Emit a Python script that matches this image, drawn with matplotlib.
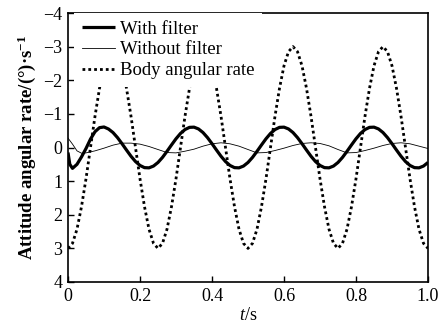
import matplotlib
matplotlib.use("Agg")
import matplotlib.pyplot as plt
import numpy as np

# ---- data ----
# "With filter" (thick solid)
t_filter = [0.0, 0.005, 0.0125, 0.025, 0.0375, 0.05, 0.0625, 0.075, 0.0875, 0.1,
            0.1125, 0.125, 0.1375, 0.15, 0.1625, 0.175, 0.1875, 0.2, 0.2125, 0.225,
            0.2375, 0.25, 0.2625, 0.275, 0.2875, 0.3, 0.3125, 0.325, 0.3375, 0.35,
            0.3625, 0.375, 0.3875, 0.4, 0.4125, 0.425, 0.4375, 0.45, 0.4625, 0.475,
            0.4875, 0.5, 0.5125, 0.525, 0.5375, 0.55, 0.5625, 0.575, 0.5875, 0.6,
            0.6125, 0.625, 0.6375, 0.65, 0.6625, 0.675, 0.6875, 0.7, 0.7125, 0.725,
            0.7375, 0.75, 0.7625, 0.775, 0.7875, 0.8, 0.8125, 0.825, 0.8375, 0.85,
            0.8625, 0.875, 0.8875, 0.9, 0.9125, 0.925, 0.9375, 0.95, 0.9625, 0.975,
            0.9875, 1.0]
v_filter = [0.15, 0.50, 0.62, 0.50, 0.28, 0.03, -0.25, -0.47, -0.59, -0.61,
            -0.55, -0.445, -0.294, -0.114, 0.076, 0.26, 0.418, 0.534, 0.599, 0.605,
            0.552, 0.445, 0.294, 0.114, -0.076, -0.26, -0.418, -0.534, -0.599, -0.605,
            -0.552, -0.445, -0.294, -0.114, 0.076, 0.26, 0.418, 0.534, 0.599, 0.605,
            0.552, 0.445, 0.294, 0.114, -0.076, -0.26, -0.418, -0.534, -0.599, -0.605,
            -0.552, -0.445, -0.294, -0.114, 0.076, 0.26, 0.418, 0.534, 0.599, 0.605,
            0.552, 0.445, 0.294, 0.114, -0.076, -0.26, -0.418, -0.534, -0.599, -0.605,
            -0.552, -0.445, -0.294, -0.114, 0.076, 0.26, 0.418, 0.534, 0.599, 0.605,
            0.552, 0.445]

# "Without filter" (thin solid)
t_nofilter = [0.0, 0.0125, 0.025, 0.0375, 0.05, 0.075, 0.1, 0.125, 0.15, 0.175,
              0.2, 0.225, 0.25, 0.275, 0.3, 0.325, 0.35, 0.375, 0.4, 0.425,
              0.45, 0.475, 0.5, 0.525, 0.55, 0.575, 0.6, 0.625, 0.65, 0.675,
              0.7, 0.725, 0.75, 0.775, 0.8, 0.825, 0.85, 0.875, 0.9, 0.925,
              0.95, 0.975, 1.0]
v_nofilter = [-0.28, -0.10, 0.10, 0.17, 0.16, 0.10, 0.02, -0.07, -0.13, -0.13,
              -0.10, -0.03, 0.06, 0.15, 0.16, 0.11, 0.05, -0.04, -0.11, -0.14,
              -0.11, -0.04, 0.06, 0.16, 0.15, 0.09, 0.02, -0.06, -0.12, -0.14,
              -0.12, -0.05, 0.06, 0.16, 0.15, 0.09, 0.02, -0.06, -0.12, -0.14,
              -0.11, -0.04, 0.03]

# "Body angular rate" (dotted)
t_body = [round(0.0125 * k, 4) for k in range(81)]
v_body = [3.00, 2.85, 2.43, 1.76, 0.93, 0.00, -0.93, -1.76, -2.43, -2.85,
          -3.00, -2.85, -2.43, -1.76, -0.93, 0.00, 0.93, 1.76, 2.43, 2.85,
          3.00, 2.85, 2.43, 1.76, 0.93, 0.00, -0.93, -1.76, -2.43, -2.85,
          -3.00, -2.85, -2.43, -1.76, -0.93, 0.00, 0.93, 1.76, 2.43, 2.85,
          3.00, 2.85, 2.43, 1.76, 0.93, 0.00, -0.93, -1.76, -2.43, -2.85,
          -3.00, -2.85, -2.43, -1.76, -0.93, 0.00, 0.93, 1.76, 2.43, 2.85,
          3.00, 2.85, 2.43, 1.76, 0.93, 0.00, -0.93, -1.76, -2.43, -2.85,
          -3.00, -2.85, -2.43, -1.76, -0.93, 0.00, 0.93, 1.76, 2.43, 2.85,
          3.00]

x_ticks = [0, 0.2, 0.4, 0.6, 0.8, 1.0]
x_ticklabels = ["0", "0.2", "0.4", "0.6", "0.8", "1.0"]
y_ticks = [-4, -3, -2, -1, 0, 1, 2, 3, 4]
y_ticklabels = ["\u22124", "\u22123", "\u22122", "\u22121", "0", "1", "2", "3", "4"]

labels = ["With filter", "Without filter", "Body angular rate"]

plt.rcParams['font.family'] = ['Liberation Serif', 'DejaVu Serif']
plt.rcParams['mathtext.fontset'] = 'custom'
plt.rcParams['mathtext.rm'] = 'Liberation Serif'
plt.rcParams['mathtext.it'] = 'Liberation Serif:italic'
plt.rcParams['mathtext.bf'] = 'Liberation Serif:bold'

fig = plt.figure(figsize=(4.45, 3.29), dpi=100)
ax = fig.add_axes([68/445, 1-282/329, (428-68)/445, (282-13)/329])

l1, = ax.plot(t_filter, v_filter, color='black', lw=2.3, solid_capstyle='butt', zorder=3)
l2, = ax.plot(t_nofilter, v_nofilter, color='black', lw=0.6, zorder=2)
l3, = ax.plot(t_body, v_body, color='black', lw=2.0, linestyle=(0, (1, 1.1)), zorder=2)

ax.set_xlim(0, 1.0)
ax.set_ylim(4, -4)
ax.set_xticks(x_ticks)
ax.set_xticklabels(x_ticklabels, fontsize=13)
ax.set_yticks(y_ticks)
ax.set_yticklabels(y_ticklabels, fontsize=13)
ax.tick_params(direction='in', length=4, width=1.0, top=False, right=False)
ax.tick_params(axis='x', pad=4)
ax.tick_params(axis='y', pad=4)
for s in ax.spines.values():
    s.set_linewidth(1.2)

ax.set_xlabel(r"$\it{t}$/s", fontsize=13, labelpad=2)
ax.set_ylabel("Attitude angular rate/(\u00b0)\u00b7s$^{\\mathbf{-1}}$", fontsize=13.5,
              fontweight='bold', labelpad=4)

leg = ax.legend([l1, l2, l3], labels, loc='upper left', frameon=True, fontsize=13.5,
                handlelength=1.76, handletextpad=0.28, labelspacing=0.2,
                borderaxespad=0.0, borderpad=0.4, bbox_to_anchor=(0.018, 1.0))
leg.get_frame().set_edgecolor('none')
leg.get_frame().set_facecolor('white')
leg.get_frame().set_alpha(1.0)
leg.get_frame().set_boxstyle('square', pad=0)

fig.savefig("out.png", dpi=100)
